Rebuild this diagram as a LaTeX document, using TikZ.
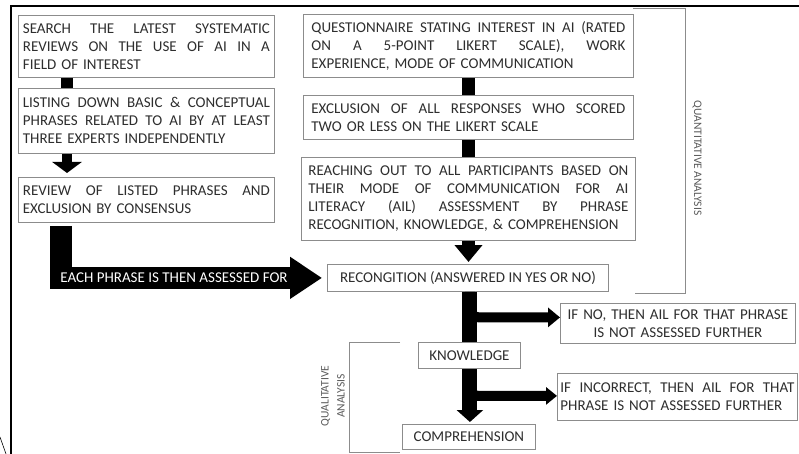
\documentclass[tikz,border=0pt]{standalone}
\usepackage{fontspec}
\setmainfont{Carlito}
\usetikzlibrary{arrows.meta,calc}
\newcommand{\jl}[2]{\leavevmode\hbox to #1{\spaceskip=0.25em plus 1fil\relax\xspaceskip=\spaceskip #2}\\}
\begin{document}
\begin{tikzpicture}[x=1pt,y=-1pt,
  box/.style={draw=black!45, line width=0.8pt, fill=white, text=black!82,
    font=\fontsize{15}{18}\selectfont, inner xsep=0pt, inner ysep=0pt,
    anchor=north west, align=left},
  cbox/.style={box, align=center},
  bracketline/.style={draw=black!45, line width=0.8pt},
  sidelabel/.style={text=black!65, font=\fontsize{11.5}{14}\selectfont, inner sep=0pt}
]
\useasboundingbox (0,0) rectangle (799,454);
% frame
\draw[line width=2pt] (799,6) -- (11,6) -- (11,454);
\draw[line width=0.6pt] (0,437) -- (6,454);

% left column
\node[box, minimum width=256pt, minimum height=62pt, text width=247pt] (b1) at (18,15)
 {\jl{247pt}{SEARCH THE LATEST SYSTEMATIC}\jl{247pt}{REVIEWS ON THE USE OF AI IN A}FIELD OF INTEREST};
\node[box, minimum width=256pt, minimum height=65pt, text width=247pt] (b2) at (18,88)
 {\jl{247pt}{LISTING DOWN BASIC \& CONCEPTUAL}\jl{247pt}{PHRASES RELATED TO AI BY AT LEAST}THREE EXPERTS INDEPENDENTLY};
\node[box, minimum width=256pt, minimum height=45pt, text width=247pt] (b3) at (18,177)
 {\jl{247pt}{REVIEW OF LISTED PHRASES AND}EXCLUSION BY CONSENSUS};

% right column
\node[box, minimum width=330pt, minimum height=63pt, text width=314pt] (q) at (303,14)
 {\jl{314pt}{QUESTIONNAIRE STATING INTEREST IN AI (RATED}\jl{314pt}{ON A 5-POINT LIKERT SCALE), WORK}EXPERIENCE, MODE OF COMMUNICATION};
\node[box, minimum width=330pt, minimum height=44pt, text width=314pt] (ex) at (303,95)
 {\jl{314pt}{EXCLUSION OF ALL RESPONSES WHO SCORED}TWO OR LESS ON THE LIKERT SCALE};
\node[box, minimum width=334pt, minimum height=83pt, text width=320pt] (re) at (301,157)
 {\jl{320pt}{REACHING OUT TO ALL PARTICIPANTS BASED ON}\jl{320pt}{THEIR MODE OF COMMUNICATION FOR AI}\jl{320pt}{LITERACY (AIL) ASSESSMENT BY PHRASE}RECOGNITION, KNOWLEDGE, \& COMPREHENSION};
\node[cbox, minimum width=281pt, minimum height=27pt] (recog) at (327,264)
 {RECONGITION (ANSWERED IN YES OR NO)};

\node[cbox, minimum width=235pt, minimum height=40pt, text width=230pt] (ifno) at (560,303)
 {IF NO, THEN AIL FOR THAT PHRASE\\IS NOT ASSESSED FURTHER};
\node[box, minimum width=240pt, minimum height=47pt, text width=234pt] (ifinc) at (557,373)
 {\jl{234pt}{IF INCORRECT, THEN AIL FOR THAT}PHRASE IS NOT ASSESSED FURTHER};

% connectors (top)
\draw[line width=12pt] ($(b1.south west)+(49,0)$) -- ($(b2.north west)+(49,0)$);
\draw[line width=10pt, -{Triangle[length=11pt,width=29pt]}] ($(b2.south west)+(49,0)$) -- ($(b3.north west)+(49,-4)$);
\draw[line width=13pt] ($(q.south west)+(165.5,0)$) -- ($(ex.north west)+(165.5,0)$);
\draw[line width=13pt] ($(ex.south west)+(165.5,0)$) -- ($(re.north west)+(167.5,0)$);
\draw[line width=13pt, -{Triangle[length=17pt,width=27pt]}] ($(re.south west)+(167.5,0)$) -- ($(recog.north west)+(141.5,-2)$);

% big L arrow
\draw[line width=22pt, line join=miter, -{Triangle[length=32pt,width=40pt]}]
  ($(b3.south west)+(43,3)$) |- ($(recog.west)+(-5,0)$);
\node[text=white, font=\fontsize{15}{18}\selectfont, inner sep=0pt] (each) at (174,277.5)
 {EACH PHRASE IS THEN ASSESSED FOR};

% lower branches
\node[cbox, minimum width=102pt, minimum height=26pt] (know) at (418,342) {KNOWLEDGE};
\node[cbox, minimum width=133pt, minimum height=25pt] (comp) at (402,424) {COMPREHENSION};

\draw[line width=10pt, rounded corners=9pt, -{Triangle[length=12pt,width=19pt]}]
  ($(recog.south)+(2,0)$) |- ($(ifno.west)+(0,-6)$);
\draw[line width=10pt, rounded corners=9pt, -{Triangle[length=11pt,width=17pt]}]
  ($(know.south)+(0,0)$) |- ($(ifinc.west)+(0,-1)$);
\draw[line width=15pt, -{Triangle[length=12pt,width=26pt]}]
  ($(recog.south)+(2,0)$) -- ($(comp.north)+(1,-2)$);
% knowledge box again, on top of the bar
\node[cbox, minimum width=102pt, minimum height=26pt] (know2) at (418,342) {KNOWLEDGE};

% brackets
\draw[bracketline] (633,8) -- (685,8) -- (685,293) -- (635,293);
\node[sidelabel, rotate=-90] (qnlab) at (697,158) {QUANTITATIVE ANALYSIS};
\draw[bracketline] (400,342) -- (349,342) -- (349,452) -- (400,452);
\node[sidelabel, rotate=90, align=center, font=\fontsize{11.5}{16}\selectfont] (qllab) at (333,396) {QUALITATIVE\\ANALYSIS};
\end{tikzpicture}
\end{document}
